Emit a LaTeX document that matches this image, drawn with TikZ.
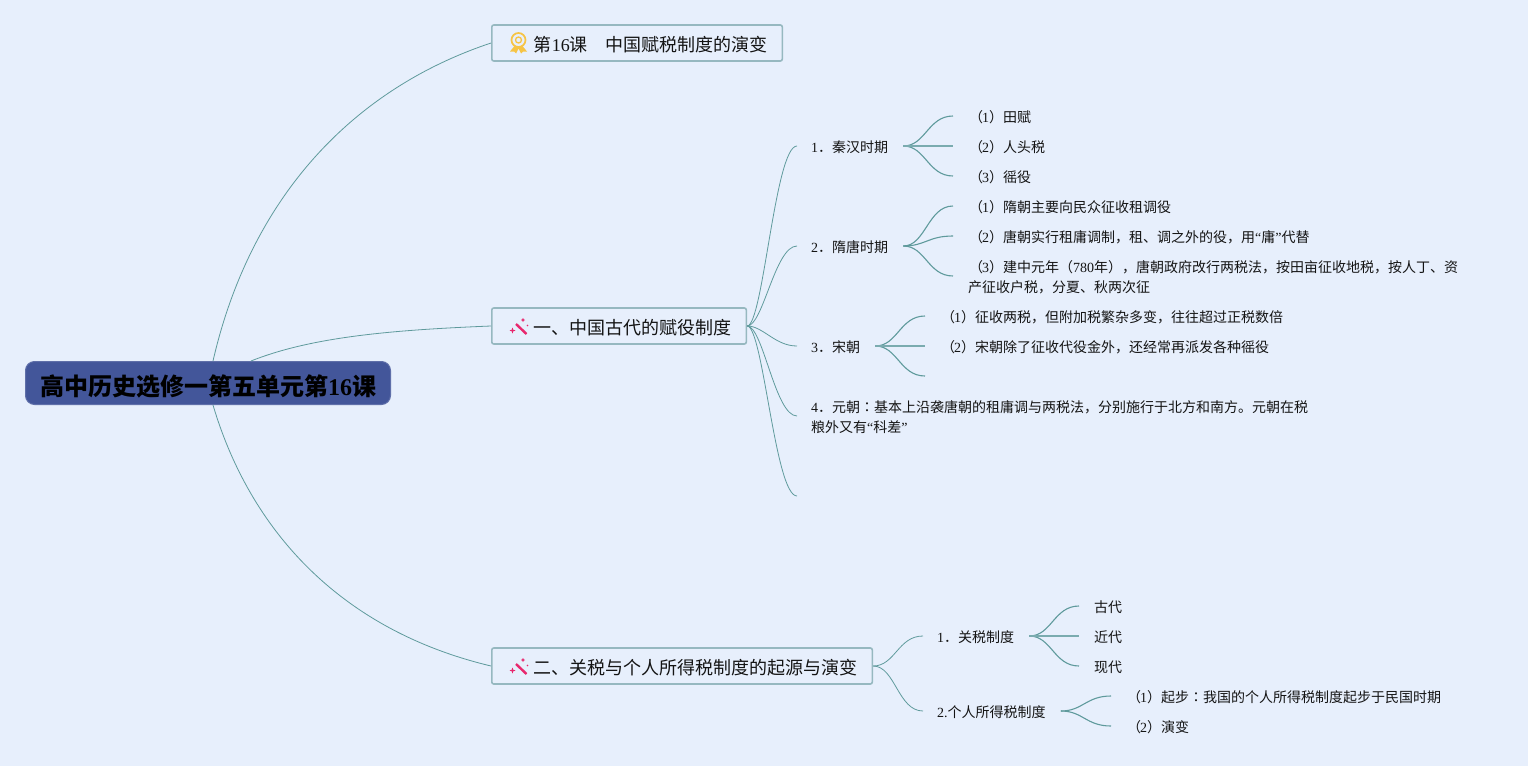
\documentclass[tikz,border=0pt]{standalone}
\usepackage{fontspec}
\setmainfont{Noto Sans CJK SC}
\newfontfamily\lat{Liberation Serif}
\newfontfamily\tcf{Noto Sans CJK TC}
\definecolor{bgc}{HTML}{E7EFFC}
\definecolor{rootc}{HTML}{43569A}
\definecolor{edgec}{HTML}{96B8C0}
\definecolor{linec}{HTML}{5F9A9C}
\definecolor{inkc}{HTML}{141414}
\definecolor{medalc}{HTML}{F6C445}
\definecolor{wandc}{HTML}{E8286E}
\newcommand{\LL}[1]{{\lat #1}}
\newcommand{\CL}{{\tcf ：}}
\newcommand{\PN}[1]{\kern1pt（\kern-1pt\LL{#1}）}
\newcommand{\TP}{\rule{0pt}{15pt}}
\tikzset{
  rootbox/.style={draw=rootc!85!white,line width=1pt,fill=rootc,rounded corners=9pt,minimum width=365pt,minimum height=43pt,inner sep=0pt,text=black,font=\fontsize{24}{28}\selectfont\bfseries,anchor=west,text height=26pt,text depth=2pt},
  topicbox/.style={draw=edgec,line width=1.6pt,fill=bgc,rounded corners=2pt,minimum height=36pt,inner xsep=14.5pt,inner ysep=0pt,text=inkc,font=\fontsize{18}{22}\selectfont,anchor=west,text height=19pt,text depth=2.4pt},
  leafbox/.style={inner xsep=15pt,inner ysep=0pt,text=inkc,font=\fontsize{14}{20}\selectfont,anchor=west,align=left,text height=13pt,text depth=1pt},
  twolines/.style={text height=,text depth=},
  branchbox/.style={inner xsep=14pt},
  main/.style={draw=linec,line width=.8pt},
  fan/.style={draw=linec,line width=1.1pt},
  fanflat/.style={draw=linec!80!bgc,line width=1.8pt},
  medal/.pic={
    \draw[medalc,line width=1.7pt] (0,-2) circle (7pt);
    \draw[medalc,line width=1.3pt] (0,-2) circle (3pt);
    \fill[medalc] (-4,4) -- (-8.5,9.5) -- (-4.5,9.5) -- (-2.5,11.5) -- (0,6.5) -- (2.5,11.5) -- (4.5,9.5) -- (8.5,9.5) -- (4,4) -- cycle;
  },
  wand/.pic={
    \draw[wandc,line width=2.4pt] (-2.5,-2) -- (8,8);
    \fill[wandc] (4.5,-8) -- (5.2,-6.7) -- (6.5,-6) -- (5.2,-5.3) -- (4.5,-4) -- (3.8,-5.3) -- (2.5,-6) -- (3.8,-6.7) -- cycle;
    \fill[wandc] (-6,1.5) -- (-5.2,3.7) -- (-3,4.5) -- (-5.2,5.3) -- (-6,7.5) -- (-6.8,5.3) -- (-9,4.5) -- (-6.8,3.7) -- cycle;
    \fill[wandc] (9,-.5) circle (.9pt);
  },
}
\newcommand{\leaf}[5][]{\node[leafbox,#1] (#2) at (#3,#4) {#5};}
\begin{document}
\begin{tikzpicture}[x=1pt,y=-1pt]
\useasboundingbox[fill=bgc] (0,0) rectangle (1528,766);

\node[rootbox] (root) at (25,383) {高中历史选修一第五单元第\LL{16}课};
\node[topicbox] (t0) at (491,43) {\hspace*{27.5pt}第\LL{16}课　中国赋税制度的演变};
\node[topicbox] (t1) at (491,326) {\hspace*{27.5pt}一、中国古代的赋役制度};
\node[topicbox] (t2) at (491,666) {\hspace*{27.5pt}二、关税与个人所得税制度的起源与演变};
\pic at (518.5,42) {medal};
\pic at (518.5,326) {wand};
\pic at (518.5,666) {wand};

\coordinate (r0) at (213,361);
\coordinate (r1) at (251,361);
\coordinate (r2) at (213,405);
\draw[main] (r0) .. controls +(37,-161) and +(-141,47) .. (t0.west);
\draw[main] (r1) .. controls +(60,-24) and +(-100,4) .. (t1.west);
\draw[main] (r2) .. controls +(37,125) and +(-151,-36) .. (t2.west);

\leaf[branchbox]{a1}{797}{146}{\LL{1}．秦汉时期\hspace*{1pt}}
\leaf[branchbox]{a2}{797}{246}{\LL{2}．隋唐时期\hspace*{1pt}}
\leaf[branchbox]{a3}{797}{346}{\LL{3}．宋朝\hspace*{1pt}}
\leaf[branchbox,twolines]{a4}{797}{416}{\TP\LL{4}．元朝\CL 基本上沿袭唐朝的租庸调与两税法，分别施行于北方和南方。元朝在税\\粮外又有\LL{“}科差\LL{”}}
\coordinate (a5) at (797,496);
\leaf{b1}{953}{116}{\PN{1}田赋}
\leaf{b2}{953}{146}{\PN{2}人头税}
\leaf{b3}{953}{176}{\PN{3}徭役}
\leaf{c1}{953}{206}{\PN{1}隋朝主要向民众征收租调役}
\leaf{c2}{953}{236}{\PN{2}唐朝实行租庸调制，租、调之外的役，用\LL{“}庸\LL{”}代替}
\leaf[twolines]{c3}{953}{276}{\TP\PN{3}建中元年（\LL{780}年），唐朝政府改行两税法，按田亩征收地税，按人丁、资\\产征收户税，分夏、秋两次征}
\leaf{d1}{925}{316}{\PN{1}征收两税，但附加税繁杂多变，往往超过正税数倍}
\leaf{d2}{925}{346}{\PN{2}宋朝除了征收代役金外，还经常再派发各种徭役}
\coordinate (d3) at (925,376);
\leaf[branchbox]{e1}{923}{636}{\LL{1}．关税制度\hspace*{1pt}}
\leaf[branchbox]{e2}{923}{711}{\LL{2.}个人所得税制度\hspace*{1pt}}
\leaf{f1}{1079}{606}{古代}
\leaf{f2}{1079}{636}{近代}
\leaf{f3}{1079}{666}{现代}
\leaf{g1}{1111}{696}{\PN{1}起步\CL 我国的个人所得税制度起步于民国时期}
\leaf{g2}{1111}{726}{\PN{2}演变}

\foreach \s/\e in {t1/a1,t1/a2,t1/a3,t1/a4}
  \draw[main] (\s.east) .. controls +(16,0) and +(-22,0) .. (\e.west);
\foreach \s/\e in {t2/e1,t2/e2}
  \draw[main] (\s.east) .. controls +(22,0) and +(-25,0) .. (\e.west);
\draw[main] (t1.east) .. controls +(16,0) and +(-22,0) .. (a5);
\foreach \s/\e in {a2/c1,a2/c2,a2/c3,a1/b1,a1/b3,a3/d1,e1/f1,e1/f3,e2/g1,e2/g2}
  \draw[fan] (\s.east) .. controls +(22,0) and +(-25,0) .. (\e.west);
\draw[fan] (a3.east) .. controls +(22,0) and +(-25,0) .. (d3);
\foreach \s/\e in {a1/b2,a3/d2,e1/f2}
  \draw[fanflat] (\s.east) -- (\e.west);
\end{tikzpicture}
\end{document}
